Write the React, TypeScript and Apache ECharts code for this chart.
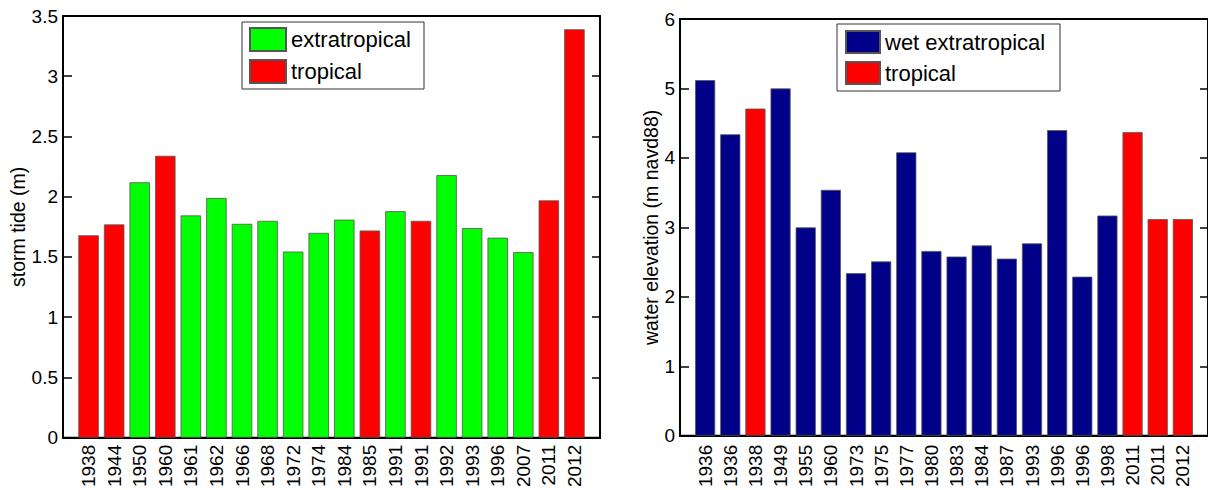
import React, { useEffect, useRef } from "react";
import * as echarts from "echarts";

// Left panel: storm tide (m)
const leftYears = ["1938", "1944", "1950", "1960", "1961", "1962", "1966", "1968", "1972", "1974", "1984", "1985", "1991", "1991", "1992", "1993", "1996", "2007", "2011", "2012"];
const leftValues = [1.68, 1.77, 2.12, 2.34, 1.845, 1.99, 1.775, 1.8, 1.545, 1.7, 1.81, 1.72, 1.88, 1.8, 2.18, 1.74, 1.66, 1.54, 1.97, 3.39];
const leftTypes = ["T", "T", "E", "T", "E", "E", "E", "E", "E", "E", "E", "T", "E", "T", "E", "E", "E", "E", "T", "T"];
const leftYTicks = { min: 0, max: 3.5, interval: 0.5 };

// Right panel: water elevation (m navd88)
const rightYears = ["1936", "1936", "1938", "1949", "1955", "1960", "1973", "1975", "1977", "1980", "1983", "1984", "1987", "1993", "1996", "1996", "1998", "2011", "2011", "2012"];
const rightValues = [5.12, 4.34, 4.71, 5.0, 3.0, 3.54, 2.34, 2.51, 4.08, 2.66, 2.58, 2.74, 2.55, 2.77, 4.4, 2.29, 3.17, 4.37, 3.12, 3.12];
const rightTypes = ["E", "E", "T", "E", "E", "E", "E", "E", "E", "E", "E", "E", "E", "E", "E", "E", "E", "T", "T", "T"];
const rightYTicks = { min: 0, max: 6, interval: 1 };

const FONT = "'Liberation Sans', Arial, Helvetica, sans-serif";
const GREEN = "#00FF00";
const RED = "#FF0000";
const NAVY = "#000088";

// pad with empty slots at both ends so bars sit at 1..N on a 0..N+1 range
const padCats = (c: string[]) => ["", ...c, ""];
const pick = (vals: number[], types: string[], t: string) => [null, ...vals.map((v, i) => (types[i] === t ? v : null)), null];

const axisLineStyle = { color: "#000", width: 2 };

function xAxisFor(gridIndex: number, cats: string[], margin: number) {
  return {
    gridIndex,
    type: "category",
    data: padCats(cats),
    boundaryGap: false,
    axisLine: { show: true, lineStyle: axisLineStyle },
    axisTick: { show: false },
    splitLine: { show: false },
    axisLabel: { interval: 0, rotate: 90, fontSize: 19, color: "#000", fontFamily: FONT, margin },
  };
}

function yAxisPair(gridIndex: number, ticks: { min: number; max: number; interval: number }, name: string, nameGap: number) {
  return [
    {
      gridIndex,
      type: "value",
      position: "left",
      min: ticks.min,
      max: ticks.max,
      interval: ticks.interval,
      axisLine: { show: true, lineStyle: axisLineStyle },
      axisTick: { show: true, inside: true, length: 9, lineStyle: { color: "#000", width: 1.5 } },
      axisLabel: { fontSize: 19, color: "#000", fontFamily: FONT, margin: 5 },
      splitLine: { show: false },
      name,
      nameLocation: "middle",
      nameGap,
      nameTextStyle: { fontSize: 19.5, color: "#000", fontFamily: FONT },
    },
    {
      gridIndex,
      type: "value",
      position: "right",
      min: ticks.min,
      max: ticks.max,
      interval: ticks.interval,
      axisLine: { show: true, lineStyle: axisLineStyle },
      axisTick: { show: true, inside: true, length: 8, lineStyle: { color: "#000", width: 1.5 } },
      axisLabel: { show: false },
      splitLine: { show: false },
    },
  ];
}

const barStyle = (color: string) => ({ color, borderColor: "#555", borderWidth: 0.8 });

export default function App() {
  const ref = useRef<HTMLDivElement>(null);
  useEffect(() => {
    if (!ref.current) return;
    const chart = echarts.init(ref.current, null, { renderer: "svg" });
    chart.setOption({
      animation: false,
      backgroundColor: "#fff",
      textStyle: { fontFamily: FONT },
      grid: [
        { left: 63, top: 16, width: 537, height: 424, show: true, borderColor: "#000", borderWidth: 2, backgroundColor: "transparent" },
        { left: 680, top: 19, width: 534, height: 421, show: true, borderColor: "#000", borderWidth: 2, backgroundColor: "transparent" },
      ],
      xAxis: [xAxisFor(0, leftYears, 7), xAxisFor(1, rightYears, 9)],
      yAxis: [
        ...yAxisPair(0, leftYTicks, "storm tide (m)", 32),
        ...yAxisPair(1, rightYTicks, "water elevation (m navd88)", 17),
      ],
      legend: [
        {
          orient: "vertical",
          left: 242,
          top: 22,
          data: ["extratropical", "tropical"],
          icon: "rect",
          itemWidth: 36,
          itemHeight: 23,
          itemGap: 7,
          padding: [5, 8, 5, 7],
          borderColor: "#333",
          borderWidth: 1,
          backgroundColor: "#fff",
          selectedMode: false,
          textStyle: { fontSize: 22, color: "#000", fontFamily: FONT, width: 125, lineHeight: 23 },
        },
        {
          orient: "vertical",
          left: 837,
          top: 24,
          data: ["wet extratropical", "tropical"],
          icon: "rect",
          itemWidth: 34,
          itemHeight: 22,
          itemGap: 7,
          padding: [6, 6, 6, 8],
          borderColor: "#333",
          borderWidth: 1,
          backgroundColor: "#fff",
          selectedMode: false,
          textStyle: { fontSize: 22, color: "#000", fontFamily: FONT, width: 169, lineHeight: 22 },
        },
      ],
      series: [
        { name: "extratropical", type: "bar", xAxisIndex: 0, yAxisIndex: 0, data: pick(leftValues, leftTypes, "E"), barWidth: "80%", barGap: "-100%", itemStyle: barStyle(GREEN) },
        { name: "tropical", type: "bar", xAxisIndex: 0, yAxisIndex: 0, data: pick(leftValues, leftTypes, "T"), barWidth: "80%", barGap: "-100%", itemStyle: barStyle(RED) },
        { name: "wet extratropical", type: "bar", xAxisIndex: 1, yAxisIndex: 2, data: pick(rightValues, rightTypes, "E"), barWidth: "80%", barGap: "-100%", itemStyle: barStyle(NAVY) },
        { name: "tropical", type: "bar", xAxisIndex: 1, yAxisIndex: 2, data: pick(rightValues, rightTypes, "T"), barWidth: "80%", barGap: "-100%", itemStyle: barStyle(RED) },
      ],
    });
    return () => chart.dispose();
  }, []);
  return <div ref={ref} style={{ position: "fixed", left: 0, top: 0, width: 1208, height: 490, background: "#fff" }} />;
}
